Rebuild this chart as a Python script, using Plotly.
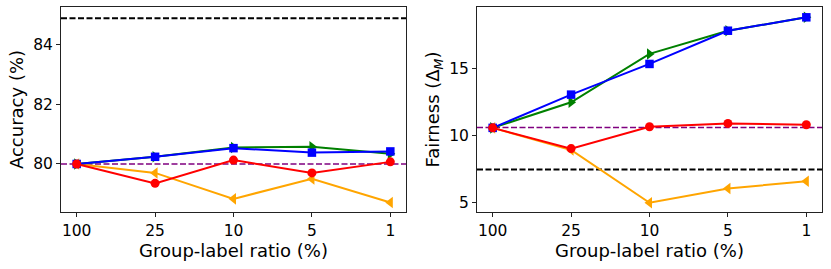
import plotly.graph_objects as go
from plotly.subplots import make_subplots

ratios = ["100", "25", "10", "5", "1"]

# Accuracy (%)
acc_green = [80.0, 80.24, 80.55, 80.58, 80.34]
acc_blue = [80.0, 80.24, 80.53, 80.38, 80.42]
acc_red = [80.0, 79.35, 80.13, 79.70, 80.07]
acc_orange = [80.0, 79.70, 78.83, 79.50, 78.71]
acc_ref_black = 84.88
acc_ref_purple = 80.0

# Fairness (Delta_M)
fair_green = [10.6, 12.51, 16.12, 17.85, 18.85]
fair_blue = [10.6, 13.08, 15.37, 17.85, 18.85]
fair_red = [10.6, 9.05, 10.68, 10.93, 10.83]
fair_orange = [10.6, 8.95, 5.01, 6.07, 6.62]
fair_ref_black = 7.5
fair_ref_purple = 10.63

W, H = 831, 269
fig = make_subplots(rows=1, cols=2)

series = [
    ("orange", "triangle-left", 10, acc_orange, fair_orange),
    ("green", "triangle-right", 10, acc_green, fair_green),
    ("blue", "square", 8.5, acc_blue, fair_blue),
    ("red", "circle", 9, acc_red, fair_red),
]
for color, sym, msize, a, f in series:
    for col, vals in ((1, a), (2, f)):
        fig.add_trace(go.Scatter(
            x=ratios, y=vals, mode="lines+markers",
            line=dict(color=color, width=2),
            marker=dict(color=color, symbol=sym, size=msize, line=dict(width=0)),
            showlegend=False), row=1, col=col)

for col, yb, yp in ((1, acc_ref_black, acc_ref_purple), (2, fair_ref_black, fair_ref_purple)):
    xref = "x domain" if col == 1 else "x2 domain"
    yref = "y" if col == 1 else "y2"
    fig.add_shape(type="line", xref=xref, yref=yref, x0=0, x1=1, y0=yb, y1=yb,
                  line=dict(color="black", width=2, dash="6px,2.5px"), layer="below")
    fig.add_shape(type="line", xref=xref, yref=yref, x0=0, x1=1, y0=yp, y1=yp,
                  line=dict(color="purple", width=1.6, dash="6px,2.5px"), layer="below")

font = "DejaVu Sans"
axis_common = dict(showline=True, linecolor="#222", linewidth=1, mirror=True,
                   ticks="outside", ticklen=4, tickcolor="#222", showgrid=False,
                   zeroline=False, automargin=False,
                   tickfont=dict(family=font, size=15.5, color="black"))

ydom = [1 - 212 / H, 1 - 7 / H]
fig.update_layout(
    width=W, height=H, margin=dict(l=0, r=0, t=0, b=0, autoexpand=False),
    plot_bgcolor="white", paper_bgcolor="white",
    font=dict(family=font, color="black"),
    xaxis=dict(domain=[61 / W, 406 / W], type="category", range=[-0.2, 4.2],
               title=dict(text="Group-label ratio (%)", font=dict(family=font, size=18), standoff=2),
               **axis_common),
    xaxis2=dict(domain=[477 / W, 822 / W], type="category", range=[-0.2, 4.2],
                title=dict(text="Group-label ratio (%)", font=dict(family=font, size=18), standoff=2),
                **axis_common),
    yaxis=dict(domain=ydom, range=[78.39, 85.26], tickvals=[80, 82, 84],
               title=dict(text="Accuracy (%)", font=dict(family=font, size=18), standoff=4),
               **axis_common),
    yaxis2=dict(domain=ydom, range=[4.32, 19.62], tickvals=[5, 10, 15],
                title=dict(text="Fairness (Δ<sub><i>M</i></sub>)", font=dict(family=font, size=18), standoff=4),
                **axis_common),
)

fig.write_html("out.html", config={"displayModeBar": False},
               post_script="document.body.style.margin='0';document.body.style.padding='0';")
